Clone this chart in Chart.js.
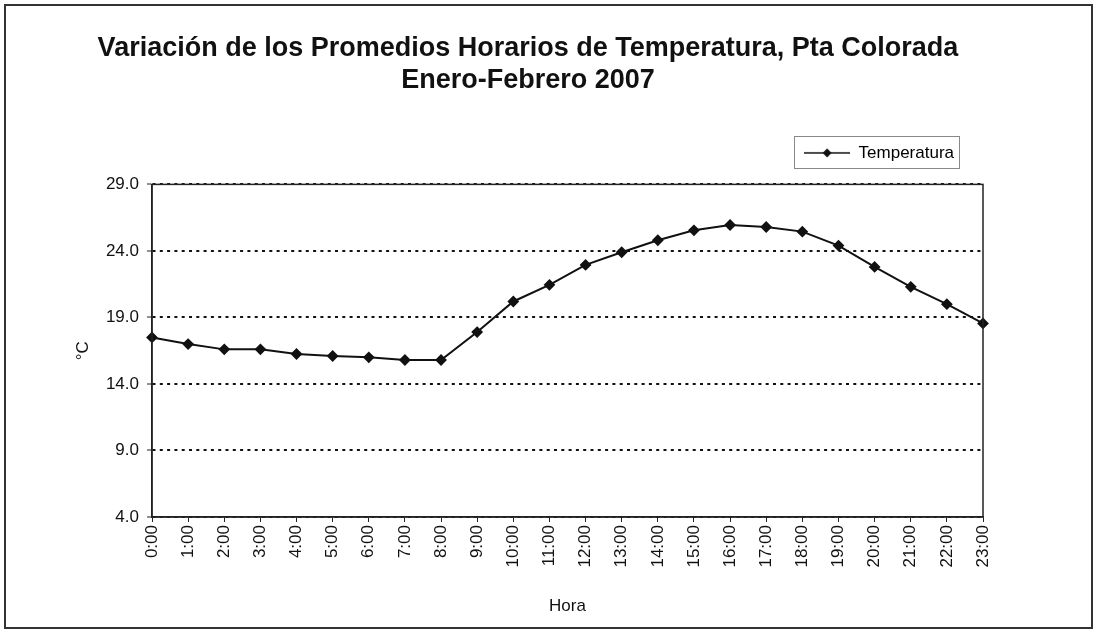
<!DOCTYPE html>
<html>
<head>
    <title>Temperatura Pta Colorada</title>
    <style>
        body { margin: 0; background: #fff; }
        #box { width: 1094px; height: 630px; }
    </style>
</head>
<body>
    <div id="box"><canvas id="temp" width="1094" height="630"></canvas></div>

    <script src="https://cdn.jsdelivr.net/npm/chart.js@4.4.1/dist/chart.umd.min.js"></script>
    <script>
        const horas = ['0:00', '1:00', '2:00', '3:00', '4:00', '5:00', '6:00', '7:00', '8:00', '9:00', '10:00', '11:00',
                       '12:00', '13:00', '14:00', '15:00', '16:00', '17:00', '18:00', '19:00', '20:00', '21:00', '22:00', '23:00'];
        const temperatura = [17.5, 17.0, 16.6, 16.6, 16.25, 16.1, 16.0, 15.8, 15.8, 17.9, 20.2, 21.45,
                             22.95, 23.9, 24.8, 25.55, 25.95, 25.8, 25.45, 24.4, 22.8, 21.3, 20.0, 18.55];
        const titulo = ['Variación de los Promedios Horarios de Temperatura, Pta Colorada', 'Enero-Febrero 2007'];
        const yMin = 4, yMax = 29, yStep = 5;

        const font = 'Liberation Sans, Arial, sans-serif';

        // legend symbol: line with a diamond in the middle
        const symbol = document.createElement('canvas');
        symbol.width = 46; symbol.height = 12;
        const sc = symbol.getContext('2d');
        sc.strokeStyle = '#111'; sc.lineWidth = 1.5;
        sc.beginPath(); sc.moveTo(0, 6); sc.lineTo(46, 6); sc.stroke();
        sc.fillStyle = '#111';
        sc.beginPath(); sc.moveTo(23, 1.5); sc.lineTo(27.5, 6); sc.lineTo(23, 10.5); sc.lineTo(18.5, 6); sc.closePath(); sc.fill();

        // empty strip between the legend and the plot
        const gap = {
            id: 'gap',
            beforeInit(chart) {
                Chart.layouts.addBox(chart, {
                    position: 'top', weight: 500, fullSize: true,
                    options: {},
                    width: 0, height: 13,
                    isHorizontal: () => true,
                    update(maxWidth) { this.width = maxWidth; this.height = 13; },
                    draw() {}
                });
            }
        };

        const frames = {
            id: 'frames',
            beforeDraw(chart) {
                const ctx = chart.ctx;
                ctx.save();
                ctx.fillStyle = '#fff';
                ctx.fillRect(0, 0, chart.width, chart.height);
                ctx.strokeStyle = '#333';
                ctx.lineWidth = 2;
                ctx.strokeRect(5, 5, 1087, 623);
                ctx.restore();
            },
            afterDraw(chart) {
                const ctx = chart.ctx;
                const a = chart.chartArea;
                ctx.save();
                ctx.strokeStyle = '#222';
                ctx.lineWidth = 1.5;
                ctx.strokeRect(a.left, a.top, a.right - a.left, a.bottom - a.top);
                const hb = chart.legend.legendHitBoxes[0];
                ctx.strokeStyle = '#888';
                ctx.lineWidth = 1;
                ctx.strokeRect(Math.round(hb.left - 10) + 0.5, Math.round(hb.top - 8) + 0.5, Math.round(hb.width + 15), Math.round(hb.height + 15));
                ctx.restore();
            }
        };

        new Chart(document.getElementById('temp'), {
            type: 'line',
            data: {
                labels: horas,
                datasets: [{
                    label: 'Temperatura',
                    data: temperatura,
                    borderColor: '#111',
                    backgroundColor: '#111',
                    borderWidth: 2,
                    tension: 0,
                    pointStyle: 'rectRot',
                    pointRadius: 4.5,
                    pointBackgroundColor: '#111',
                    pointBorderColor: '#111'
                }]
            },
            options: {
                responsive: false,
                animation: false,
                layout: { padding: { top: 5, left: 73, right: 111, bottom: 5 } },
                plugins: {
                    title: {
                        display: true,
                        text: titulo,
                        color: '#111',
                        font: { family: font, size: 27, weight: 'bold', lineHeight: 1.2 },
                        padding: { top: 27, bottom: 18.6 }
                    },
                    legend: {
                        display: true,
                        position: 'top',
                        align: 'end',
                        labels: {
                            color: '#111',
                            font: { family: font, size: 17 },
                            usePointStyle: true,
                            pointStyleWidth: 46,
                            padding: 29,
                            generateLabels: (chart) => [{
                                text: chart.data.datasets[0].label,
                                pointStyle: symbol,
                                fillStyle: '#111',
                                strokeStyle: '#111',
                                lineWidth: 0,
                                datasetIndex: 0
                            }]
                        }
                    },
                    tooltip: { enabled: false }
                },
                scales: {
                    x: {
                        offset: false,
                        afterFit: (s) => { s.height = 108; },
                        grid: { drawOnChartArea: false, drawTicks: true, tickLength: 5, color: '#222', lineWidth: 1 },
                        border: { display: true, color: '#222', width: 1.5 },
                        ticks: {
                            color: '#111', font: { family: font, size: 17 },
                            minRotation: 90, maxRotation: 90, padding: 3, autoSkip: false
                        },
                        title: { display: true, text: 'Hora', color: '#111', font: { family: font, size: 17 }, padding: { top: 4, bottom: 8 } }
                    },
                    y: {
                        min: yMin,
                        max: yMax,
                        afterFit: (s) => { s.width = 79; },
                        grid: { drawOnChartArea: true, drawTicks: true, tickLength: 5, color: '#111', lineWidth: 2, tickColor: '#222', tickWidth: 1, tickBorderDash: [] },
                        border: { display: true, color: '#222', width: 1.5, dash: [3, 4.3] },
                        ticks: {
                            stepSize: yStep,
                            color: '#111', font: { family: font, size: 17 }, padding: 8,
                            callback: (v) => v.toFixed(1)
                        },
                        title: { display: true, text: '°C', color: '#111', font: { family: font, size: 17 }, padding: { top: 0, bottom: 0 } }
                    }
                }
            },
            plugins: [gap, frames]
        });
    </script>
</body>
</html>
